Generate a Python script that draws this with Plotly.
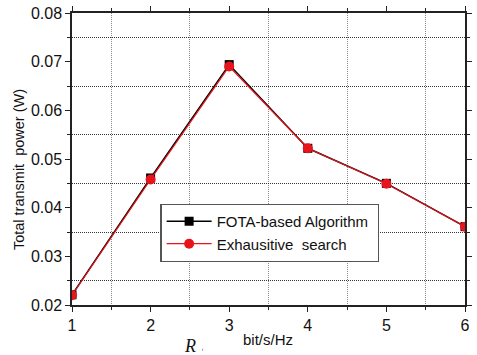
import plotly.graph_objects as go

rates = [1, 2, 3, 4, 5, 6]
fota_power = [0.0221, 0.0461, 0.0694, 0.0522, 0.0450, 0.0361]
exhaustive_power = [0.0220, 0.0458, 0.0690, 0.0522, 0.0449, 0.0361]
y_ticks = [0.02, 0.03, 0.04, 0.05, 0.06, 0.07, 0.08]

FONT = "Arial, Liberation Sans, sans-serif"

fig = go.Figure()
fig.add_trace(go.Scatter(
    x=rates, y=fota_power, mode="lines+markers", name="FOTA-based Algorithm ",
    line=dict(color="black", width=1.5),
    marker=dict(symbol="square", size=9, color="black"),
))
fig.add_trace(go.Scatter(
    x=rates, y=exhaustive_power, mode="lines+markers", name="Exhausitive  search",
    line=dict(color="#e8141c", width=1.2),
    marker=dict(symbol="circle", size=10, color="#e8141c"),
))

axis_common = dict(
    showline=True, linecolor="#222", linewidth=1.5, mirror="allticks",
    ticks="outside", ticklen=5, tickcolor="#222", tickwidth=1.2,
    showgrid=False, zeroline=False,
    tickfont=dict(family=FONT, size=16, color="#111"),
)

fig.update_layout(
    width=477, height=355,
    margin=dict(l=72, r=5, t=10, b=50),
    paper_bgcolor="white", plot_bgcolor="white",
    showlegend=True,
    legend=dict(
        x=(162 - 72) / 400, y=(305.5 - 203) / 295.5, xanchor="left", yanchor="top",
        bgcolor="white", bordercolor="#555", borderwidth=1.2,
        font=dict(family=FONT, size=15, color="#111"),
        tracegroupgap=0, itemwidth=45,
    ),
    xaxis=dict(
        range=[1, 6], tickvals=rates, **axis_common,
        minor=dict(tick0=1.5, dtick=1, showgrid=True, gridcolor="#888",
                   griddash="1px,1px", gridwidth=1, ticks="outside", ticklen=3,
                   tickcolor="#222"),
    ),
    yaxis=dict(
        range=[0.02, 0.08], tickvals=y_ticks,
        tickformat=".2f", **axis_common,
        minor=dict(tick0=0.025, dtick=0.01, showgrid=True, gridcolor="#333",
                   griddash="1px,1px", gridwidth=1, ticks="outside", ticklen=3,
                   tickcolor="#222"),
    ),
)

def px_x(p):
    return (p - 72) / 400

def px_y(p):
    return (305.5 - p) / 295.5

fig.add_annotation(
    xref="paper", yref="paper", x=px_x(18), y=px_y(168),
    text="Total transmit  power (W)", textangle=-90, showarrow=False,
    xanchor="center", yanchor="middle",
    font=dict(family=FONT, size=14.5, color="#111"),
)
fig.add_annotation(
    xref="paper", yref="paper", x=px_x(192), y=px_y(347),
    text="<i>R</i>", showarrow=False, xanchor="center", yanchor="middle",
    font=dict(family="Liberation Serif, Times New Roman, serif", size=18, color="#111"),
)
fig.add_annotation(
    xref="paper", yref="paper", x=px_x(205), y=px_y(351),
    text="t", showarrow=False, xanchor="center", yanchor="middle",
    font=dict(family=FONT, size=4, color="#111"),
)
fig.add_annotation(
    xref="paper", yref="paper", x=px_x(271), y=px_y(340),
    text="bit/s/Hz", showarrow=False, xanchor="center", yanchor="middle",
    font=dict(family=FONT, size=15, color="#111"),
)

fig.write_html("out.html")
